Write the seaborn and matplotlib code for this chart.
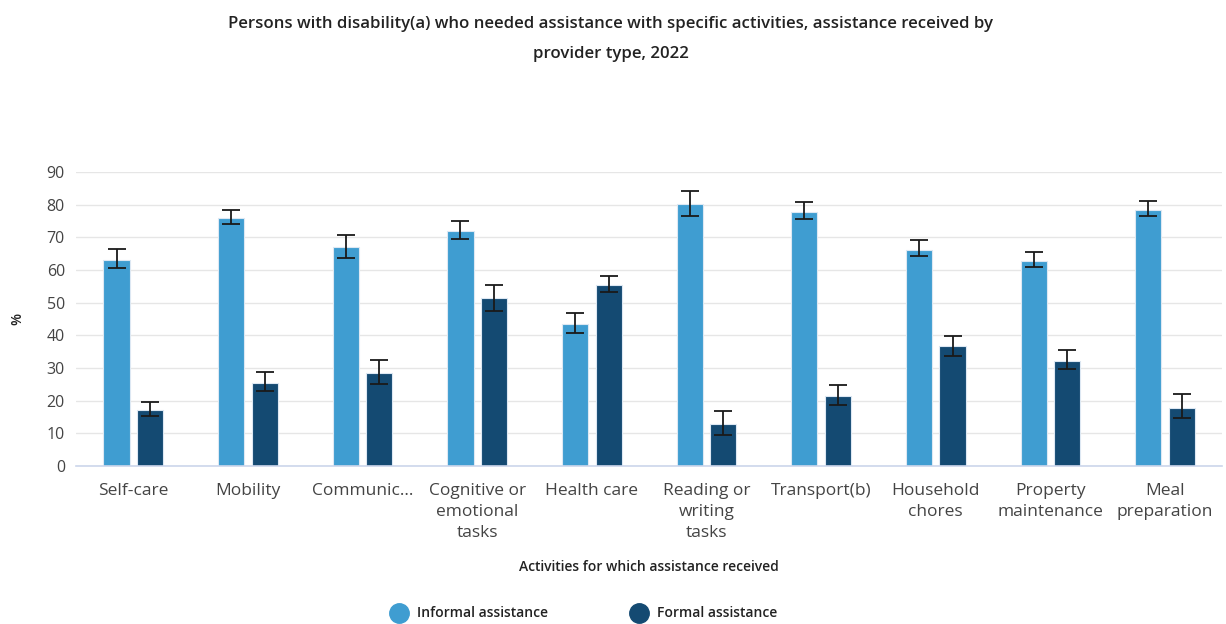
import numpy as np
import pandas as pd
import seaborn as sns
import matplotlib
matplotlib.use("Agg")
import matplotlib.pyplot as plt
from matplotlib.lines import Line2D

categories = ["Self-care", "Mobility", "Communic...", "Cognitive or\nemotional\ntasks", "Health care",
              "Reading or\nwriting\ntasks", "Transport(b)", "Household\nchores", "Property\nmaintenance",
              "Meal\npreparation"]
series_names = ["Informal assistance", "Formal assistance"]
informal = [63.1, 75.9, 67.0, 72.0, 43.6, 80.2, 77.8, 66.1, 62.7, 78.3]
informal_low = [60.5, 74.0, 63.6, 69.4, 40.6, 76.4, 75.7, 64.4, 60.9, 76.4]
informal_high = [66.3, 78.4, 70.6, 74.9, 46.9, 84.2, 80.8, 69.1, 65.5, 81.1]
formal = [17.2, 25.4, 28.4, 51.4, 55.3, 12.9, 21.4, 36.6, 32.2, 17.9]
formal_low = [15.3, 23.1, 25.1, 47.6, 53.4, 9.5, 18.8, 33.6, 29.8, 14.6]
formal_high = [19.6, 28.7, 32.6, 55.4, 58.1, 17.0, 24.8, 39.8, 35.6, 22.0]
yticks = [0, 10, 20, 30, 40, 50, 60, 70, 80, 90]
colors = ["#3f9dd1", "#144a72"]

sns.set_theme(style="white")
plt.rcParams['font.family'] = ['Open Sans', 'DejaVu Sans']

df = pd.DataFrame({
    "cat": categories * 2,
    "series": [series_names[0]] * len(categories) + [series_names[1]] * len(categories),
    "value": informal + formal,
    "low": informal_low + formal_low,
    "high": informal_high + formal_high,
})

fig = plt.figure(figsize=(12.26, 6.24), dpi=100)
ax = fig.add_axes([0.062, 0.253, 0.935, 0.4715])

sns.barplot(data=df, x="cat", y="value", hue="series", order=categories, hue_order=series_names,
            palette=colors, saturation=1, width=0.585, gap=0.22, errorbar=None, ax=ax, legend=False,
            edgecolor="#dde8f3", linewidth=0.8)

# error bars positioned at bar centers
patches = [p for p in ax.patches if p.get_height() > 0]
patches = sorted(patches, key=lambda p: p.get_x())
xs = [p.get_x() + p.get_width() / 2 for p in patches]
for i, cat in enumerate(categories):
    for j in range(2):
        row = df[(df.cat == cat) & (df.series == series_names[j])].iloc[0]
        x = xs[2 * i + j]
        ax.errorbar(x, row.value, yerr=[[row.value - row.low], [row.high - row.value]],
                    fmt="none", ecolor="#1a1a1a", elinewidth=1.3, capsize=6.5, capthick=1.3, zorder=5)

ax.set_ylim(0, 90)
ax.set_yticks(yticks)
ax.set_yticklabels([str(t) for t in yticks], fontsize=11.5, color="#444444")
ax.set_xlim(-0.5, len(categories) - 0.5)
ax.yaxis.grid(True, color="#e6e6e6", linewidth=1)
ax.set_axisbelow(True)
for s in ["left", "right", "top"]:
    ax.spines[s].set_visible(False)
ax.spines["bottom"].set_color("#ccd6eb")
ax.spines["bottom"].set_linewidth(1.2)
ax.tick_params(axis="both", length=0, pad=8)
ax.tick_params(axis="x", pad=12)
ax.set_xticks(range(len(categories)))
ax.set_xticklabels(categories, fontsize=12.5, color="#444444", linespacing=1.42, va="top")
ax.set_xlabel("Activities for which assistance received", fontsize=10, fontweight="semibold",
              color="#222222", labelpad=14)
ax.set_ylabel("%", fontsize=10, fontweight="semibold", color="#222222", labelpad=16)

fig.text(0.498, 0.962, "Persons with disability(a) who needed assistance with specific activities, assistance received by",
         ha="center", va="center", fontsize=12.1, fontweight="semibold", color="#222222")
fig.text(0.498, 0.914, "provider type, 2022", ha="center", va="center", fontsize=12.1,
         fontweight="semibold", color="#222222")

handles = [Line2D([0], [0], marker="o", linestyle="none", markersize=14, markerfacecolor=c,
                  markeredgecolor=c) for c in colors]
fig.legend(handles, series_names, loc="center", bbox_to_anchor=(0.474, 0.017), ncol=2, frameon=False,
           handletextpad=0.3, columnspacing=5.5, labelcolor="#222222",
           prop={"weight": "semibold", "size": 10})

fig.savefig("out.png", dpi=100)
